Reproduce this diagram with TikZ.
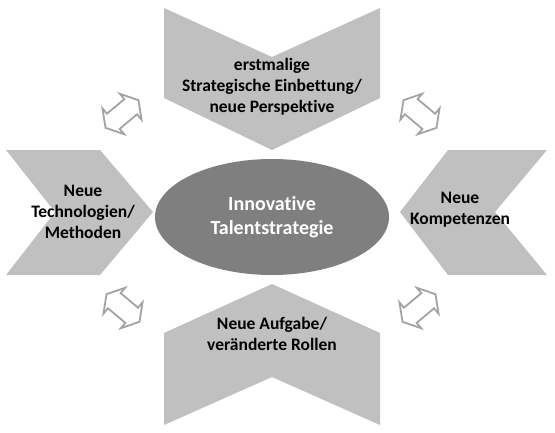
\documentclass[tikz,border=0pt]{standalone}
\usepackage{fontspec}
\setmainfont{Carlito}[Ligatures=NoCommon]
\usetikzlibrary{shapes.geometric,shapes.arrows}
\definecolor{chevgray}{HTML}{C0C0C0}
\definecolor{coregray}{HTML}{7F7F7F}
\definecolor{arrowgray}{HTML}{A3A3A3}

\begin{document}
\begin{tikzpicture}[x=1pt, y=-1pt,
  chevron/.style={fill=chevgray},
  tagtext/.style={font=\bfseries\fontsize{17.5}{21}\selectfont, align=center, text=black},
  twoway/.style={double arrow, draw=arrowgray, line width=1.8pt, fill=white,
    inner xsep=0pt, inner ysep=9pt, minimum height=43pt,
    double arrow head extend=7pt, double arrow tip angle=118}]
\useasboundingbox (0,0) rectangle (555,432);
% chevrons
\fill[chevron] (164,8) -- (272,57) -- (380,8) -- (380,98) -- (272,150) -- (164,98) -- cycle;
\fill[chevron] (164,333) -- (272,284) -- (380,333) -- (380,425) -- (272,377) -- (164,425) -- cycle;
\fill[chevron] (6,150) -- (100,150) -- (153,212) -- (100,275) -- (6,275) -- (55,212) -- cycle;
\fill[chevron] (547,150) -- (448,150) -- (400,212) -- (448,275) -- (547,275) -- (495,212) -- cycle;
% centre
\node[ellipse, fill=coregray, text=white, minimum width=234pt, minimum height=116pt,
  font=\bfseries\fontsize{20}{24}\selectfont, align=center] (core) at (272,217) {Innovative\\Talentstrategie};
% texts
\node[tagtext] (strategy) at (272,87) {erstmalige\\Strategische Einbettung/\\neue Perspektive};
\node[tagtext] (roles) at (272,334) {Neue Aufgabe/\\veränderte Rollen};
\node[tagtext] (tech) at (83,212) {Neue\\Technologien/\\Methoden};
\node[tagtext] (skills) at (460,210) {Neue\\Kompetenzen};
% double arrows
\node[twoway, rotate=40] (techstrat) at (122,114) {};
\node[twoway, rotate=-40] (stratskills) at (420,114) {};
\node[twoway, rotate=-40] (techroles) at (123,308) {};
\node[twoway, rotate=40] (rolesskills) at (419,308) {};
\end{tikzpicture}
\end{document}
